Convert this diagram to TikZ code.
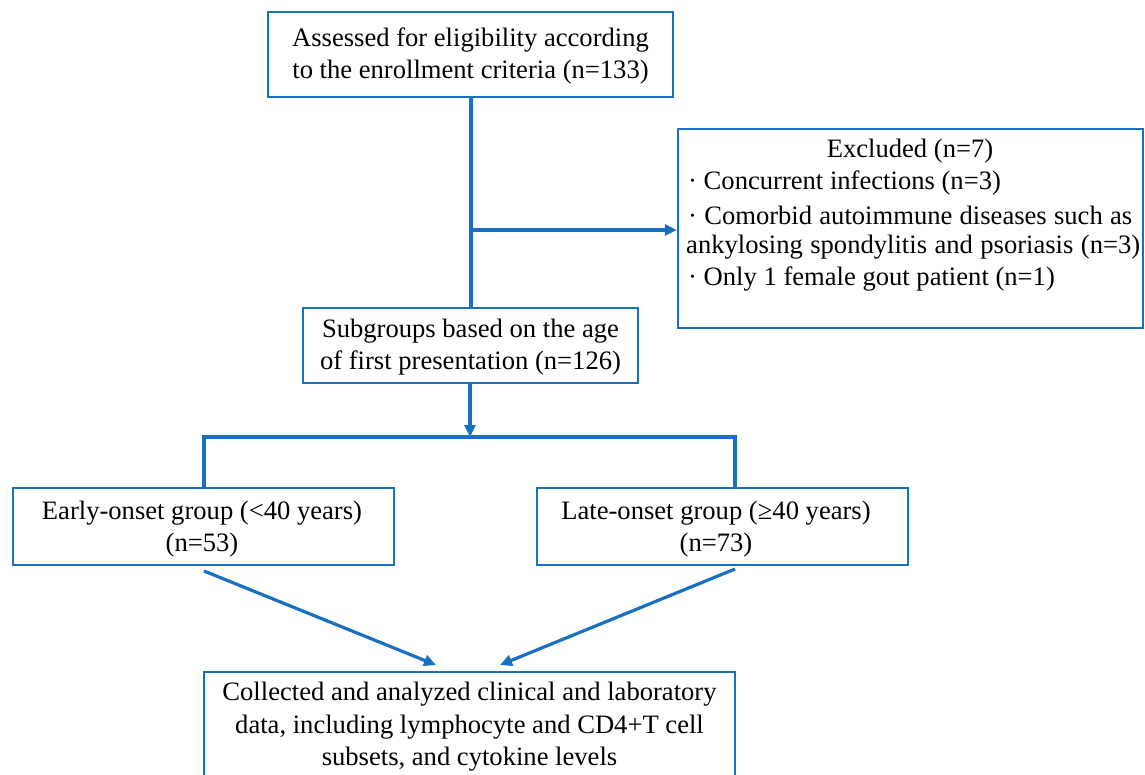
\documentclass[tikz,border=0pt]{standalone}
\usepackage{fontspec}
\setmainfont{Liberation Serif}
\usetikzlibrary{arrows.meta,calc}
\definecolor{flowblue}{RGB}{24,112,192}
\begin{document}
\begin{tikzpicture}[x=1pt,y=-1pt,
  box/.style={draw=flowblue,line width=2.4pt,inner sep=0pt},
  txt/.style={font=\fontsize{26.6}{32.5}\selectfont,align=center,inner sep=0pt},
  ltxt/.style={font=\fontsize{26.6}{32.5}\selectfont,anchor=west,inner sep=0pt},
  conn/.style={draw=flowblue,line width=3.2pt},
  arr/.style={conn,-{Triangle[length=12pt,width=11pt]}}]
\useasboundingbox (0,0) rectangle (1145,775);
\begin{scope}
\clip (0,0) rectangle (1145,775);
% boxes
\node[box,minimum width=405pt,minimum height=85pt] (top) at (470.5,54.5) {};
\node[txt] (toptxt) at (470.5,56) {Assessed for eligibility according\\to the enrollment criteria (n=133)};
\node[box,minimum width=465pt,minimum height=199pt] (excl) at (910.5,228.5) {};
\node[txt] (exclt) at (910,151) {Excluded (n=7)};
\node[ltxt] (ex1) at (688,183) {· Concurrent infections (n=3)};
\node[ltxt] (ex2) at (688,215) {\makebox[444pt][s]{· Comorbid autoimmune diseases such as}};
\node[ltxt] (ex3) at (686,247) {\makebox[454pt][s]{ankylosing spondylitis and psoriasis (n=3)}};
\node[ltxt] (ex4) at (688,279) {· Only 1 female gout patient (n=1)};
\node[box,minimum width=335pt,minimum height=75pt] (sub) at (470.5,345.5) {};
\node[txt] (subtxt) at (470.5,347) {Subgroups based on the age\\of first presentation (n=126)};
\node[box,minimum width=381pt,minimum height=77pt] (early) at (203.5,526.5) {};
\node[txt] (earlytxt) at (202,529) {Early-onset group (<40 years)\\(n=53)};
\node[box,minimum width=371pt,minimum height=77pt] (late) at (722.5,526.5) {};
\node[txt] (latetxt) at (716,529) {Late-onset group (≥40 years)\\(n=73)};
\node[box,minimum width=531pt,minimum height=130pt] (bot) at (469.5,737) {};
\node[txt] (bottxt) at (469.5,727) {Collected and analyzed clinical and laboratory\\data, including lymphocyte and CD4+T cell\\subsets, and cytokine levels};
% connectors
\coordinate (tb) at (471,97);
\coordinate (br) at (471,230);
\coordinate (split) at (470,437);
\coordinate (sl) at (204,437);
\coordinate (sr) at (735,437);
\coordinate (es) at (204,571);
\coordinate (ls) at (735,569);
\coordinate (bl) at (436,665);
\coordinate (brr) at (500,665);
\draw[conn] (tb) -- (tb |- sub.north);
\draw[arr] (br) -- (excl.west |- br);
\draw[arr] (sub.south -| split) -- (split);
\draw[conn] (sl |- early.north) -- (sl) -- (sr) -- (sr |- late.north);
\draw[arr] (es) -- (bl);
\draw[arr] (ls) -- (brr);
\end{scope}
\end{tikzpicture}
\end{document}
